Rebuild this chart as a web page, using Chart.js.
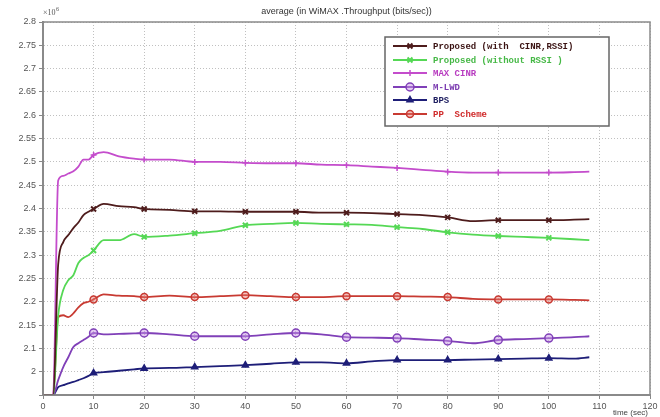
<!DOCTYPE html>
<html>
<head>
<meta charset="utf-8">
<script src="https://cdn.jsdelivr.net/npm/chart.js@4/dist/chart.umd.min.js"></script>
<style>
html,body{margin:0;padding:0;background:#fff;}
#wrap{width:660px;height:417px;position:relative;}
</style>
</head>
<body>
<div id="wrap"><canvas id="c" width="660" height="417"></canvas></div>
<script>
// ---- data ----
const times = [0, 2, 3, 4, 5, 6, 7, 8, 9, 10, 12, 15, 18, 20, 25, 30, 35, 40, 45, 50, 55, 60, 65, 70, 75, 80, 85, 90, 95, 100, 105, 108];
const proposedWithCinrRssi = [2.0, 2.0, 2.28, 2.328, 2.343, 2.358, 2.37, 2.386, 2.393, 2.399, 2.41, 2.405, 2.403, 2.399, 2.397, 2.394, 2.394, 2.393, 2.393, 2.393, 2.391, 2.391, 2.39, 2.388, 2.386, 2.381, 2.373, 2.375, 2.375, 2.375, 2.376, 2.377];
const proposedWithoutRssi = [2.0, 2.0, 2.17, 2.225, 2.246, 2.257, 2.283, 2.294, 2.3, 2.31, 2.332, 2.332, 2.345, 2.339, 2.342, 2.347, 2.352, 2.364, 2.367, 2.369, 2.367, 2.366, 2.365, 2.36, 2.356, 2.349, 2.344, 2.341, 2.339, 2.337, 2.334, 2.332];
const maxCinr = [2.0, 2.0, 2.46, 2.47, 2.475, 2.48, 2.49, 2.505, 2.505, 2.515, 2.521, 2.512, 2.507, 2.505, 2.505, 2.5, 2.5, 2.498, 2.497, 2.497, 2.494, 2.493, 2.49, 2.487, 2.483, 2.479, 2.477, 2.477, 2.477, 2.477, 2.478, 2.479];
const mLwd = [2.0, 2.0, 2.032, 2.06, 2.081, 2.103, 2.111, 2.118, 2.125, 2.133, 2.13, 2.131, 2.132, 2.133, 2.13, 2.126, 2.126, 2.126, 2.13, 2.133, 2.13, 2.124, 2.123, 2.122, 2.119, 2.116, 2.111, 2.118, 2.12, 2.122, 2.124, 2.126];
const bps = [2.0, 2.0, 2.017, 2.021, 2.025, 2.028, 2.032, 2.036, 2.041, 2.047, 2.049, 2.052, 2.055, 2.057, 2.058, 2.06, 2.062, 2.064, 2.067, 2.07, 2.07, 2.068, 2.072, 2.075, 2.075, 2.075, 2.076, 2.077, 2.078, 2.079, 2.078, 2.081];
const ppScheme = [2.0, 2.0, 2.167, 2.171, 2.167, 2.175, 2.188, 2.197, 2.2, 2.205, 2.216, 2.213, 2.212, 2.21, 2.213, 2.21, 2.212, 2.214, 2.212, 2.21, 2.21, 2.212, 2.212, 2.212, 2.211, 2.21, 2.206, 2.205, 2.205, 2.205, 2.204, 2.203];
const seriesNames = ["Proposed (with  CINR,RSSI)", "Proposed (without RSSI )", "MAX CINR", "M-LWD", "BPS", "PP  Scheme"];
const yTickLabels = ["", "2", "2.1", "2.15", "2.2", "2.25", "2.3", "2.35", "2.4", "2.45", "2.5", "2.55", "2.6", "2.65", "2.7", "2.75", "2.8"];
const xTickLabels = ["0", "10", "20", "30", "40", "50", "60", "70", "80", "90", "100", "110", "120"];
const chartTitle = "average (in WiMAX .Throughput (bits/sec))";
const xAxisTitle = "time (sec)";

// ---- styles ----
const styles = [
  {color: "#4e1c1c", text: "#3a1212", point: "crossRot", r: 3.5, bg: "#4e1c1c", bw: 2},
  {color: "#55d855", text: "#45b845", point: "crossRot", r: 3.5, bg: "#55d855", bw: 2},
  {color: "#c44ccc", text: "#b83cc0", point: "cross", r: 3, bg: "#c44ccc", bw: 1.5},
  {color: "#8040b8", text: "#7a3ab0", point: "circle", r: 4, bg: "rgba(200,150,230,0.5)", bw: 1.5},
  {color: "#1e1e78", text: "#1e1e60", point: "triangle", r: 3.5, bg: "#1e1e78", bw: 1.5},
  {color: "#c83a32", text: "#d02a2a", point: "circle", r: 3.5, bg: "rgba(230,120,110,0.45)", bw: 1.5}
];
const allSeries = [proposedWithCinrRssi, proposedWithoutRssi, maxCinr, mLwd, bps, ppScheme];

const datasets = allSeries.map((vals, i) => ({
  label: seriesNames[i],
  data: times.map((t, k) => ({x: t, y: vals[k]})),
  borderColor: styles[i].color,
  backgroundColor: styles[i].bg,
  borderWidth: 1.8,
  pointStyle: styles[i].point,
  pointBorderColor: styles[i].color,
  pointBackgroundColor: styles[i].bg,
  pointBorderWidth: styles[i].bw,
  pointRadius: ctx => { const t = times[ctx.dataIndex]; return (t > 0 && t % 10 === 0) ? styles[i].r : 0; },
  pointHoverRadius: 0,
  cubicInterpolationMode: "monotone",
  tension: 0.3,
  fill: false
}));

const extras = {
  id: "extras",
  afterDraw(chart) {
    const ctx = chart.ctx;
    const a = chart.chartArea;
    ctx.save();
    // frame
    ctx.strokeStyle = "#8a8a8a";
    ctx.lineWidth = 1.5;
    ctx.strokeRect(a.left, a.top, a.right - a.left, a.bottom - a.top);
    // title
    ctx.fillStyle = "#333";
    ctx.font = "9px 'Liberation Sans', sans-serif";
    ctx.textAlign = "center";
    ctx.textBaseline = "middle";
    ctx.fillText(chartTitle, (a.left + a.right) / 2, 12);
    // x10^6
    ctx.textAlign = "left";
    ctx.fillStyle = "#555";
    ctx.font = "8px 'Liberation Serif', serif";
    ctx.fillText("\u00d710", 43, 13);
    const w = ctx.measureText("\u00d710").width;
    ctx.font = "6px 'Liberation Serif', serif";
    ctx.fillText("6", 43 + w + 0.5, 9);
    // x axis title
    ctx.font = "8px 'Liberation Sans', sans-serif";
    ctx.fillStyle = "#444";
    ctx.textAlign = "right";
    ctx.fillText(xAxisTitle, 648, 413);
    // legend
    const lx = 385, ly = 37, lw = 224, lh = 89;
    ctx.fillStyle = "#fff";
    ctx.fillRect(lx, ly, lw, lh);
    ctx.strokeStyle = "#666";
    ctx.lineWidth = 1.5;
    ctx.strokeRect(lx, ly, lw, lh);
    const rows = [46, 60, 73, 87, 100, 114];
    ctx.textAlign = "left";
    ctx.textBaseline = "middle";
    ctx.font = "bold 9px 'Liberation Mono', monospace";
    rows.forEach((y, i) => {
      const s = styles[i];
      ctx.strokeStyle = s.color;
      ctx.lineWidth = 1.8;
      ctx.beginPath();
      ctx.moveTo(393, y);
      ctx.lineTo(427, y);
      ctx.stroke();
      ctx.strokeStyle = s.color;
      ctx.fillStyle = s.bg;
      ctx.lineWidth = s.bw;
      Chart.helpers.drawPoint(ctx, {pointStyle: s.point, radius: s.r, rotation: 0, borderWidth: s.bw}, 410, y);
      ctx.fillStyle = s.text;
      ctx.fillText(seriesNames[i], 433, y + 0.5);
    });
    ctx.restore();
  }
};

new Chart(document.getElementById("c"), {
  type: "line",
  data: {datasets},
  plugins: [extras],
  options: {
    responsive: false,
    animation: false,
    events: [],
    layout: {padding: {top: 22, right: 10, left: 0, bottom: 0}},
    plugins: {legend: {display: false}, tooltip: {enabled: false}, title: {display: false}},
    scales: {
      x: {
        type: "linear", min: 0, max: 120,
        afterFit: s => { s.height = 22; },
        ticks: {stepSize: 10, autoSkip: false, maxRotation: 0, padding: 2,
          font: {size: 9, family: "'Liberation Sans', sans-serif"}, color: "#555",
          callback: (v, i) => xTickLabels[i] !== undefined ? xTickLabels[i] : ""},
        grid: {color: "#c0c0c0", tickColor: "#888", tickLength: 4, lineWidth: 1},
        border: {color: "#8a8a8a", width: 2, dash: [1, 2]}
      },
      y: {
        type: "linear", min: 2.0, max: 2.8,
        afterFit: s => { s.width = 43; },
        ticks: {stepSize: 0.05, autoSkip: false, padding: 3,
          font: {size: 9, family: "'Liberation Sans', sans-serif"}, color: "#555",
          callback: (v, i) => yTickLabels[i] !== undefined ? yTickLabels[i] : ""},
        grid: {color: "#c0c0c0", tickColor: "#888", tickLength: 4, lineWidth: 1},
        border: {color: "#8a8a8a", width: 2, dash: [1, 2]}
      }
    }
  }
});
</script>
</body>
</html>
